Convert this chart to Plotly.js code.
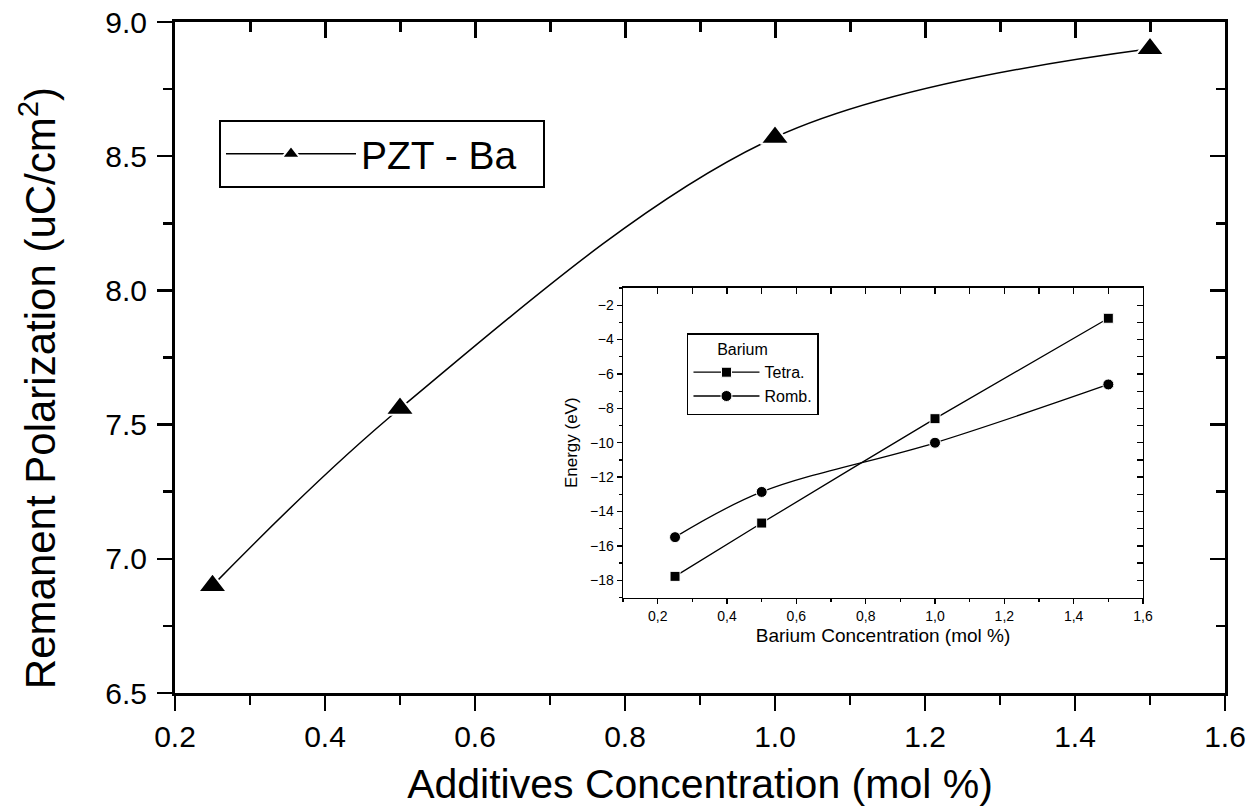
<!DOCTYPE html>
<html>
<head>
<meta charset="utf-8">
<script src="https://cdn.plot.ly/plotly-3.0.1.min.js"></script>
<style>
html,body{margin:0;padding:0;background:#fff;}
#chart{width:1255px;height:812px;}
</style>
</head>
<body>
<div id="chart"></div>
<script>
// Main chart data
const mainX = [0.25, 0.5, 1.0, 1.5];
const mainY = [6.90, 7.56, 8.57, 8.90];
const mainName = 'PZT - Ba';

// Inset data
const insetX = [0.25, 0.5, 1.0, 1.5];
const tetraY = [-17.77, -14.67, -8.6, -2.76];
const rombY = [-15.49, -12.86, -10.0, -6.61];
const insetXTickVals = [0.2, 0.4, 0.6, 0.8, 1.0, 1.2, 1.4, 1.6];
const insetXTickText = ['0,2', '0,4', '0,6', '0,8', '1,0', '1,2', '1,4', '1,6'];

const FONT = 'Liberation Sans, Arial, sans-serif';
const MAIN_DOM_X = [0, 1], MAIN_DOM_Y = [0, 1];
const INSET_DOM_X = [0.4267, 0.9219], INSET_DOM_Y = [0.1423, 0.6036];

function carrier(xs, ys, xa, ya) {
  return {x: xs, y: ys, type: 'scatter', mode: 'markers', marker: {opacity: 0},
          xaxis: xa, yaxis: ya, showlegend: false, hoverinfo: 'skip'};
}

const traces = [
  {
    x: mainX, y: mainY, name: mainName + '\u00a0\u00a0', type: 'scatter', mode: 'lines+markers',
    line: {color: '#000', width: 1.5, shape: 'spline', smoothing: 1},
    marker: {symbol: 'triangle-up', size: 25, color: '#000', line: {color: '#fff', width: 2}},
    xaxis: 'x', yaxis: 'y', legend: 'legend'
  },
  {
    x: insetX, y: tetraY, name: 'Tetra.', type: 'scatter', mode: 'lines+markers',
    line: {color: '#000', width: 1.3, shape: 'spline', smoothing: 0.6},
    marker: {symbol: 'square', size: 10, color: '#000', line: {color: '#fff', width: 1}},
    xaxis: 'x2', yaxis: 'y2', legend: 'legend2'
  },
  {
    x: insetX, y: rombY, name: 'Romb.', type: 'scatter', mode: 'lines+markers',
    line: {color: '#000', width: 1.3, shape: 'spline', smoothing: 1},
    marker: {symbol: 'circle', size: 11, color: '#000', line: {color: '#fff', width: 1}},
    xaxis: 'x2', yaxis: 'y2', legend: 'legend2'
  },
  carrier(mainX, mainY, 'x3', 'y3'),
  carrier(mainX, mainY, 'x5', 'y3'),
  carrier(insetX, tetraY, 'x4', 'y4')
];

const mainAxisCommon = {
  showgrid: false, zeroline: false, linecolor: '#000', linewidth: 3,
  tickcolor: '#000', tickwidth: 2.5, ticklen: 15,
  tickfont: {family: FONT, size: 30, color: '#000'}
};

const layout = {
  width: 1255, height: 812,
  paper_bgcolor: '#fff', plot_bgcolor: 'rgba(0,0,0,0)',
  margin: {l: 175, r: 30, t: 22, b: 119},
  font: {family: FONT, color: '#000'},
  xaxis: Object.assign({}, mainAxisCommon, {
    domain: MAIN_DOM_X, range: [0.2, 1.6], tickmode: 'linear', tick0: 0.2, dtick: 0.2, tickformat: '.1f',
    ticks: 'outside', mirror: true, anchor: 'y',
    minor: {dtick: 0.1, tick0: 0.2, ticklen: 9, tickwidth: 2.5, tickcolor: '#000', ticks: 'outside'},
    title: {text: 'Additives Concentration (mol %)', font: {family: FONT, size: 41, color: '#000'}, standoff: 18}
  }),
  yaxis: Object.assign({}, mainAxisCommon, {
    domain: MAIN_DOM_Y, range: [6.5, 9.0], tickmode: 'linear', tick0: 6.5, dtick: 0.5, tickformat: '.1f',
    ticks: 'outside', mirror: true, anchor: 'x', ticklabelstandoff: 4,
    minor: {dtick: 0.25, tick0: 6.5, ticklen: 9, tickwidth: 2.5, tickcolor: '#000', ticks: 'outside'}
  }),
  xaxis3: {
    domain: MAIN_DOM_X, side: 'top', anchor: 'y3', range: [0.2, 1.6],
    showgrid: false, zeroline: false, showline: false, showticklabels: false,
    tickmode: 'linear', tick0: 0.2, dtick: 0.2, ticks: 'inside', ticklen: 16, tickwidth: 3, tickcolor: 'black'
  },
  xaxis5: {
    domain: MAIN_DOM_X, side: 'top', anchor: 'y3', range: [0.2, 1.6],
    showgrid: false, zeroline: false, showline: false, showticklabels: false,
    tickmode: 'linear', tick0: 0.3, dtick: 0.2, ticks: 'inside', ticklen: 10, tickwidth: 3, tickcolor: 'black'
  },
  yaxis3: Object.assign({}, mainAxisCommon, {
    domain: MAIN_DOM_Y, side: 'right', anchor: 'x3', range: [6.5, 9.0],
    tickmode: 'linear', tick0: 6.5, dtick: 0.5, ticks: 'inside', showticklabels: false, showline: false,
    minor: {dtick: 0.25, tick0: 6.5, ticklen: 9, tickwidth: 2.5, tickcolor: '#000', ticks: 'inside'}
  }),
  xaxis2: {
    domain: INSET_DOM_X, anchor: 'y2', range: [0.1, 1.6],
    showgrid: false, zeroline: false, linecolor: '#000', linewidth: 1.5, mirror: true,
    tickmode: 'array', tickvals: insetXTickVals, ticktext: insetXTickText,
    ticks: 'outside', ticklen: 5, tickwidth: 1.3, tickcolor: '#000',
    minor: {dtick: 0.1, tick0: 0.1, ticklen: 3, tickwidth: 1.3, tickcolor: '#000', ticks: 'outside'},
    tickfont: {family: FONT, size: 14, color: '#000'},
    title: {text: 'Barium Concentration (mol %)', font: {family: FONT, size: 19, color: '#000'}, standoff: 6}
  },
  yaxis2: {
    domain: INSET_DOM_Y, anchor: 'x2', range: [-19, -1],
    showgrid: false, zeroline: false, linecolor: '#000', linewidth: 1.5, mirror: true,
    tickmode: 'linear', tick0: -18, dtick: 2,
    ticks: 'outside', ticklen: 5, tickwidth: 1.3, tickcolor: '#000',
    minor: {dtick: 1, tick0: -19, ticklen: 3, tickwidth: 1.3, tickcolor: '#000', ticks: 'outside'},
    tickfont: {family: FONT, size: 14, color: '#000'},
    title: {text: 'Energy (eV)', font: {family: FONT, size: 17, color: '#000'}, standoff: 8}
  },
  xaxis4: {
    domain: INSET_DOM_X, side: 'top', anchor: 'y4', range: [0.1, 1.6],
    showgrid: false, zeroline: false, showline: false, showticklabels: false,
    tickmode: 'linear', tick0: 0.1, dtick: 0.1,
    ticks: 'inside', ticklen: 6, tickwidth: 1.5, tickcolor: 'black'
  },
  yaxis4: {
    domain: INSET_DOM_Y, side: 'right', anchor: 'x4', range: [-19, -1],
    showgrid: false, zeroline: false, showline: false, showticklabels: false,
    tickmode: 'linear', tick0: -19, dtick: 1,
    ticks: 'inside', ticklen: 6, tickwidth: 1.3, tickcolor: '#000'
  },
  annotations: [
    {
      text: 'Remanent Polarization (uC/cm<sup>2</sup>)', textangle: -90,
      xref: 'paper', yref: 'paper', x: -0.131, y: 0.455, xanchor: 'center', yanchor: 'middle',
      showarrow: false, font: {family: FONT, size: 42, color: '#000'}
    }
  ],
  showlegend: true,
  legend: {
    x: 0.0419, y: 0.854, xanchor: 'left', yanchor: 'top',
    bgcolor: '#fff', bordercolor: '#000', borderwidth: 2,
    font: {family: FONT, size: 39, color: '#000'}, itemwidth: 130
  },
  legend2: {
    x: 0.4876, y: 0.5365, xanchor: 'left', yanchor: 'top',
    bgcolor: '#fff', bordercolor: '#000', borderwidth: 1.5,
    font: {family: FONT, size: 16, color: '#000'}, itemwidth: 66, tracegroupgap: 0,
    title: {text: '      Barium', font: {family: FONT, size: 16, color: '#000'}}
  }
};

Plotly.newPlot('chart', traces, layout, {displayModeBar: false, staticPlot: true});
</script>
</body>
</html>
